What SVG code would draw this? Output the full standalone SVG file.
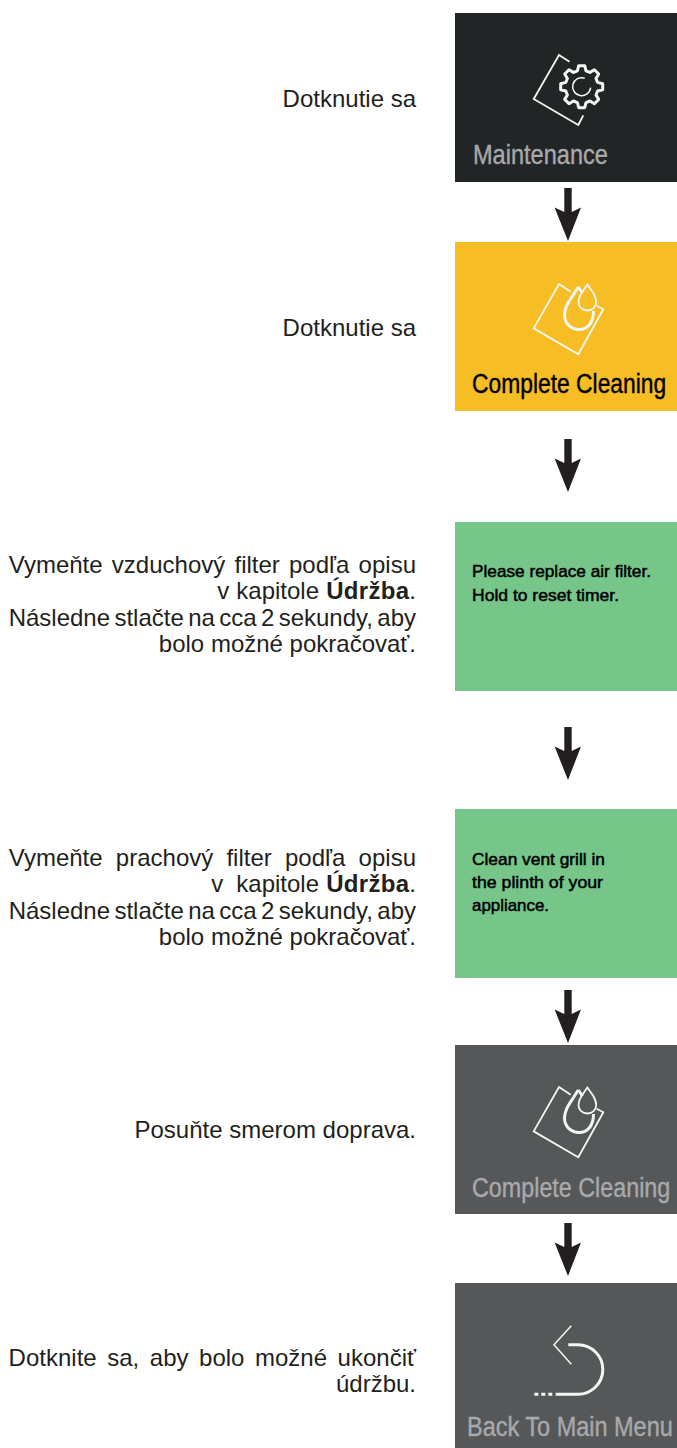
<svg xmlns="http://www.w3.org/2000/svg" xmlns:xlink="http://www.w3.org/1999/xlink" width="677" height="1448" viewBox="0 0 677 1448">
<style>
text{font-family:"Liberation Sans",Arial,sans-serif}
.b{font-size:24px;fill:#231f20;text-anchor:end}
.bd{font-weight:700;letter-spacing:.3px}
.l{font-size:27px;stroke-width:.4}
.g{font-size:17px;fill:#000;stroke:#000;stroke-width:.5}
.ic{fill:none;stroke-linecap:butt;stroke-linejoin:miter}
</style>
<defs>
<path id="ah" d="M564.3 0H571.7V24L581 19.5L568 53L554.6 19.5L564.3 24Z" fill="#231f20"/>
<g id="drop" class="ic" stroke="#f1f8f3">
<path stroke-width="1.8" d="M570.7 291.7L559 284L533.7 328.3L578.3 354.3L603.3 309.3L596.7 305.7"/>
<path stroke-width="3" d="M578.3 287L572.5 296C568 303 564.5 308 564.5 315C564.5 323.5 571 329.5 579 329.5C587.5 329.5 593.5 323 593.5 311"/>
<path stroke-width="3" d="M578.3 287L582.5 293"/>
<path stroke-width="1.8" d="M587.4 284.5L581.5 293C579 297 578.5 299.5 578.5 302C578.5 307 582.5 310.5 587.4 310.5C592.3 310.5 596.2 307 596.2 302C596.2 299.5 595.5 297 593.3 293Z"/>
</g>
</defs>

<g id="connectors">
<use xlink:href="#ah" href="#ah" y="188"/>
<use xlink:href="#ah" href="#ah" y="439"/>
<use xlink:href="#ah" href="#ah" y="727"/>
<use xlink:href="#ah" href="#ah" y="990"/>
<use xlink:href="#ah" href="#ah" y="1223"/>
</g>

<g id="node-maintenance">
<rect x="455" y="13" width="222" height="169" fill="#212526"/>
<path class="ic" stroke="#f1f8f3" stroke-width="1.8" d="M569.5 61.7L559 55L533.7 99L578.3 125L583.3 115.3"/>
<g transform="translate(581.7 86.7)" class="ic" stroke="#f1f8f3">
<path stroke-width="3" stroke-linejoin="round" d="M21 3L15.9 4.3L14.3 8.25L17 12.7L12.7 17L8.25 14.3L4.3 15.9L3 21L-3 21L-4.3 15.9L-8.25 14.3L-12.7 17L-17 12.7L-14.3 8.25L-15.9 4.3L-21 3L-21 -3L-15.9 -4.3L-14.3 -8.25L-17 -12.7L-12.7 -17L-8.25 -14.3L-4.3 -15.9L-3 -21L3 -21L4.3 -15.9L8.25 -14.3L12.7 -17L17 -12.7L14.3 -8.25L15.9 -4.3L21 -3Z"/>
<path stroke-width="1.5" d="M3 -8.5A9 9 0 1 0 8.9 1"/>
</g>
<text transform="translate(473 164) scale(.873 1)" class="l" fill="#a7a9ac" stroke="#a7a9ac">Maintenance</text>
<text x="416" y="106.5" class="b">Dotknutie sa</text>
</g>

<g id="node-cleaning">
<rect x="455" y="242" width="222" height="169" fill="#f7bd25"/>
<use xlink:href="#drop" href="#drop"/>
<text transform="translate(472 393) scale(.846 1)" class="l" fill="#000" stroke="#000">Complete Cleaning</text>
<text x="416" y="335.5" class="b">Dotknutie sa</text>
</g>

<g id="node-air-filter">
<rect x="455" y="522" width="222" height="169" fill="#76c68a"/>
<text x="472" y="577" class="g" textLength="179" lengthAdjust="spacingAndGlyphs">Please replace air filter.</text>
<text x="472" y="600.5" class="g" textLength="147" lengthAdjust="spacingAndGlyphs">Hold to reset timer.</text>
<text x="416" y="573" class="b" word-spacing="2.55">Vymeňte vzduchový filter podľa opisu</text>
<text x="416" y="599" class="b" word-spacing=".5">v kapitole <tspan class="bd">Údržba</tspan>.</text>
<text x="416" y="626" class="b" word-spacing="-2.3">Následne stlačte na cca 2 sekundy, aby</text>
<text x="416" y="652" class="b">bolo možné pokračovať.</text>
</g>

<g id="node-vent-grill">
<rect x="455" y="809" width="222" height="169" fill="#76c68a"/>
<text x="472" y="865" class="g" textLength="133" lengthAdjust="spacingAndGlyphs">Clean vent grill in</text>
<text x="472" y="888" class="g" textLength="131" lengthAdjust="spacingAndGlyphs">the plinth of your</text>
<text x="472" y="911" class="g" textLength="77" lengthAdjust="spacingAndGlyphs">appliance.</text>
<text x="416" y="866" class="b" word-spacing="6.55">Vymeňte prachový filter podľa opisu</text>
<text x="416" y="892" class="b" word-spacing=".5">v<tspan dx="6"> kapitole </tspan><tspan class="bd">Údržba</tspan>.</text>
<text x="416" y="919" class="b" word-spacing="-2.3">Následne stlačte na cca 2 sekundy, aby</text>
<text x="416" y="945" class="b">bolo možné pokračovať.</text>
</g>

<g id="node-cleaning-gray">
<rect x="455" y="1045" width="222" height="169" fill="#565759"/>
<use xlink:href="#drop" href="#drop" y="803"/>
<text transform="translate(472 1197) scale(.864 1)" class="l" fill="#a7a9ac" stroke="#a7a9ac">Complete Cleaning</text>
<text x="416" y="1138" class="b">Posuňte smerom doprava.</text>
</g>

<g id="node-back">
<rect x="455" y="1283" width="222" height="165" fill="#565759"/>
<path class="ic" stroke="#f1f8f3" stroke-width="1.5" d="M571.3 1325.7L554 1344.7L571.3 1364.3"/>
<path class="ic" stroke="#f1f8f3" stroke-width="3" d="M568.3 1344.7H578A24.8 24.8 0 0 1 578 1394.3H555.7"/>
<path class="ic" stroke="#f1f8f3" stroke-width="3" stroke-dasharray="4 3" d="M534.3 1394.3H553"/>
<text transform="translate(467 1435.5) scale(.87 1)" class="l" fill="#a7a9ac" stroke="#a7a9ac">Back To Main Menu</text>
<text x="416" y="1366" class="b" word-spacing="3.9">Dotknite sa, aby bolo možné ukončiť</text>
<text x="416" y="1392" class="b">údržbu.</text>
</g>
</svg>
